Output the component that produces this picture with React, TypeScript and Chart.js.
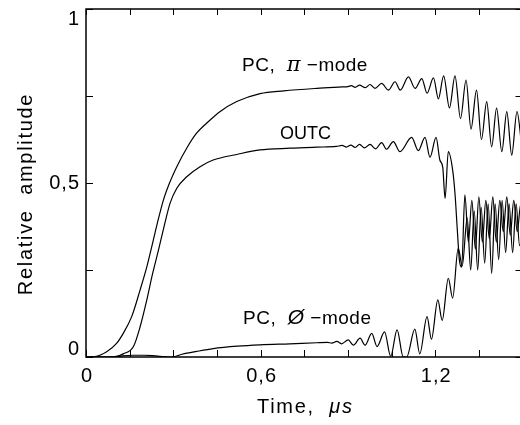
import React, { useEffect, useRef } from "react";
import { Chart, registerables } from "chart.js";

Chart.register(...registerables);

// ---- Data (time in µs, relative amplitude) ----
const piTime = [0, 0.031, 0.071, 0.105, 0.128, 0.157, 0.186, 0.209, 0.226, 0.245, 0.266, 0.289, 0.312, 0.346, 0.38, 0.42, 0.46, 0.518, 0.598, 0.68, 0.793, 0.88, 0.9, 0.912, 0.925, 0.94, 0.96, 0.976, 0.993, 1.016, 1.039, 1.062, 1.08, 1.108, 1.131, 1.154, 1.172, 1.194, 1.211, 1.229, 1.249, 1.268, 1.287, 1.306, 1.323, 1.342, 1.359, 1.377, 1.394, 1.411, 1.429, 1.446, 1.463, 1.481, 1.498];
const piAmp = [0, 0.001, 0.015, 0.039, 0.068, 0.116, 0.193, 0.259, 0.317, 0.384, 0.451, 0.504, 0.547, 0.6, 0.643, 0.676, 0.705, 0.734, 0.757, 0.765, 0.772, 0.776, 0.777, 0.78, 0.775, 0.781, 0.774, 0.783, 0.772, 0.786, 0.767, 0.791, 0.767, 0.805, 0.772, 0.8, 0.758, 0.802, 0.742, 0.808, 0.716, 0.808, 0.685, 0.796, 0.655, 0.767, 0.625, 0.734, 0.604, 0.715, 0.59, 0.705, 0.58, 0.705, 0.6];

const outcTime = [0, 0.08, 0.1, 0.128, 0.163, 0.186, 0.209, 0.229, 0.249, 0.268, 0.289, 0.312, 0.346, 0.392, 0.437, 0.518, 0.598, 0.7, 0.793, 0.86, 0.88, 0.895, 0.91, 0.925, 0.94, 0.957, 0.976, 0.995, 1.016, 1.033, 1.056, 1.079, 1.119, 1.142, 1.165, 1.182, 1.203, 1.216, 1.226, 1.234, 1.245, 1.26, 1.268, 1.276, 1.283, 1.291, 1.302, 1.314, 1.326, 1.338, 1.35, 1.362, 1.374, 1.386, 1.398, 1.41, 1.422, 1.434, 1.446, 1.458, 1.47, 1.482, 1.494, 1.5];
const outcAmp = [0, 0, 0.001, 0.009, 0.03, 0.087, 0.164, 0.24, 0.307, 0.374, 0.442, 0.485, 0.518, 0.547, 0.566, 0.582, 0.595, 0.6, 0.603, 0.605, 0.608, 0.603, 0.609, 0.602, 0.611, 0.601, 0.611, 0.598, 0.616, 0.597, 0.619, 0.59, 0.631, 0.593, 0.631, 0.574, 0.631, 0.566, 0.545, 0.456, 0.59, 0.537, 0.47, 0.365, 0.279, 0.258, 0.466, 0.33, 0.45, 0.31, 0.46, 0.33, 0.45, 0.34, 0.46, 0.33, 0.45, 0.36, 0.46, 0.35, 0.45, 0.36, 0.44, 0.41];

const zeroTime = [0, 0.1, 0.125, 0.16, 0.2, 0.24, 0.27, 0.294, 0.33, 0.38, 0.437, 0.52, 0.598, 0.7, 0.793, 0.83, 0.845, 0.862, 0.878, 0.901, 0.919, 0.942, 0.959, 0.982, 1.0, 1.026, 1.047, 1.069, 1.09, 1.102, 1.13, 1.147, 1.172, 1.187, 1.209, 1.224, 1.245, 1.26, 1.279, 1.293, 1.31, 1.322, 1.334, 1.346, 1.358, 1.37, 1.382, 1.394, 1.406, 1.418, 1.43, 1.442, 1.454, 1.466, 1.478, 1.49, 1.5];
const zeroAmp = [0, 0, 0.003, 0.005, 0.005, 0.003, 0.001, 0, 0.008, 0.016, 0.024, 0.031, 0.035, 0.038, 0.041, 0.042, 0.04, 0.045, 0.038, 0.049, 0.034, 0.054, 0.034, 0.068, 0.03, 0.072, 0.002, 0.078, 0, 0, 0.08, 0.009, 0.116, 0.051, 0.164, 0.105, 0.226, 0.169, 0.312, 0.262, 0.4, 0.25, 0.42, 0.25, 0.43, 0.27, 0.44, 0.24, 0.44, 0.28, 0.45, 0.3, 0.44, 0.3, 0.44, 0.32, 0.36];

const xTickValues = [0, 0.6, 1.2];
const xTickLabels = ["0", "0,6", "1,2"];
const yTickValues = [0, 0.5, 1];
const yTickLabels = ["0", "0,5", "1"];

const X_MIN = 0;
const X_MAX = 1.5;
const X_STEP = 0.15;
const Y_MIN = 0;
const Y_MAX = 1;
const Y_STEP = 0.25;

const CANVAS_W = 530;
const CANVAS_H = 425;
const FONT = '"Liberation Sans", Arial, sans-serif';

type Run = { text: string; font: string };

function drawRuns(ctx: CanvasRenderingContext2D, x: number, y: number, runs: Run[], spacing = "0px") {
  let cx = x;
  ctx.textAlign = "left";
  ctx.textBaseline = "alphabetic";
  (ctx as any).letterSpacing = spacing;
  for (const r of runs) {
    ctx.font = r.font;
    ctx.fillText(r.text, cx, y);
    cx += ctx.measureText(r.text).width;
  }
  (ctx as any).letterSpacing = "0px";
}

const framePlugin = {
  id: "framePlugin",
  afterDraw(chart: any) {
    const { ctx, chartArea: a, scales } = chart;
    const xs = scales.x;
    const ys = scales.y;
    ctx.save();
    ctx.strokeStyle = "#000";
    ctx.fillStyle = "#000";
    ctx.lineWidth = 1.5;
    ctx.strokeRect(a.left, a.top, a.right - a.left, a.bottom - a.top);

    ctx.lineWidth = 1;
    const tl = 7;
    ctx.beginPath();
    xs.ticks.forEach((t: any) => {
      const px = Math.round(xs.getPixelForValue(t.value)) + 0.5;
      ctx.moveTo(px, a.bottom);
      ctx.lineTo(px, a.bottom - tl);
      ctx.moveTo(px, a.top);
      ctx.lineTo(px, a.top + tl - 1);
    });
    ys.ticks.forEach((t: any) => {
      const py = Math.round(ys.getPixelForValue(t.value)) + 0.5;
      ctx.moveTo(a.left, py);
      ctx.lineTo(a.left + tl, py);
      ctx.moveTo(a.right, py);
      ctx.lineTo(a.right - tl, py);
    });
    ctx.stroke();

    // tick labels
    ctx.font = `20px ${FONT}`;
    (ctx as any).letterSpacing = "1px";
    ctx.textAlign = "center";
    ctx.textBaseline = "middle";
    xTickValues.forEach((v, i) => {
      ctx.fillText(xTickLabels[i], xs.getPixelForValue(v) + 1, 376);
    });
    ctx.textAlign = "right";
    yTickValues.forEach((v, i) => {
      let py = ys.getPixelForValue(v);
      py = Math.min(Math.max(py, a.top + 10), a.bottom - 8);
      ctx.fillText(yTickLabels[i], 80, py);
    });
    (ctx as any).letterSpacing = "0px";

    // axis titles
    drawRuns(
      ctx,
      257,
      413,
      [
        { text: "Time,  ", font: `20px ${FONT}` },
        { text: "μs", font: `italic 20px ${FONT}` },
      ],
      "1.7px"
    );

    ctx.save();
    ctx.translate(32, 194);
    ctx.rotate(-Math.PI / 2);
    ctx.font = `20px ${FONT}`;
    (ctx as any).letterSpacing = "1.7px";
    ctx.textAlign = "center";
    ctx.textBaseline = "alphabetic";
    ctx.fillText("Relative  amplitude", 0, 0);
    (ctx as any).letterSpacing = "0px";
    ctx.restore();

    // curve annotations
    drawRuns(ctx, 242, 71, [
      { text: "PC,  ", font: `19px ${FONT}` },
      { text: "π", font: `italic 21px "DejaVu Serif", serif` },
      { text: " −mode", font: `19px ${FONT}` },
    ], "0.5px");
    drawRuns(ctx, 280, 139, [{ text: "OUTC", font: `18px ${FONT}` }], "0px");
    drawRuns(ctx, 243, 324, [
      { text: "PC,  ", font: `19px ${FONT}` },
      { text: "Ø", font: `italic 21px ${FONT}` },
      { text: " −mode", font: `19px ${FONT}` },
    ], "0.5px");
    ctx.restore();
  },
};

function toPoints(t: number[], v: number[]) {
  return t.map((x, i) => ({ x, y: v[i] }));
}

export default function App() {
  const canvasRef = useRef<HTMLCanvasElement | null>(null);

  useEffect(() => {
    const canvas = canvasRef.current;
    if (!canvas) return;
    const lineStyle = {
      borderColor: "#000",
      borderWidth: 1.2,
      pointRadius: 0,
      fill: false,
      cubicInterpolationMode: "monotone" as const,
    };
    const chart = new Chart(canvas, {
      type: "line",
      data: {
        datasets: [
          { label: "PC, π-mode", data: toPoints(piTime, piAmp), ...lineStyle },
          { label: "OUTC", data: toPoints(outcTime, outcAmp), ...lineStyle },
          { label: "PC, 0-mode", data: toPoints(zeroTime, zeroAmp), ...lineStyle },
        ],
      },
      options: {
        responsive: false,
        animation: false,
        devicePixelRatio: 1,
        layout: {
          padding: { left: 86, top: 9, right: CANVAS_W - 522.5, bottom: CANVAS_H - 357 },
        },
        plugins: {
          legend: { display: false },
          tooltip: { enabled: false },
        },
        scales: {
          x: {
            type: "linear",
            min: X_MIN,
            max: X_MAX,
            ticks: { display: false, stepSize: X_STEP },
            grid: { display: false, drawTicks: false },
            border: { display: false },
            afterFit: (s: any) => {
              s.height = 0;
            },
          },
          y: {
            type: "linear",
            min: Y_MIN,
            max: Y_MAX,
            ticks: { display: false, stepSize: Y_STEP },
            grid: { display: false, drawTicks: false },
            border: { display: false },
            afterFit: (s: any) => {
              s.width = 0;
            },
          },
        },
      },
      plugins: [framePlugin],
    });
    return () => chart.destroy();
  }, []);

  return (
    <div
      style={{
        position: "fixed",
        left: 0,
        top: 0,
        width: 520,
        height: 425,
        overflow: "hidden",
        background: "#fff",
      }}
    >
      <canvas
        ref={canvasRef}
        width={CANVAS_W}
        height={CANVAS_H}
        style={{ display: "block", width: CANVAS_W, height: CANVAS_H }}
      />
    </div>
  );
}
